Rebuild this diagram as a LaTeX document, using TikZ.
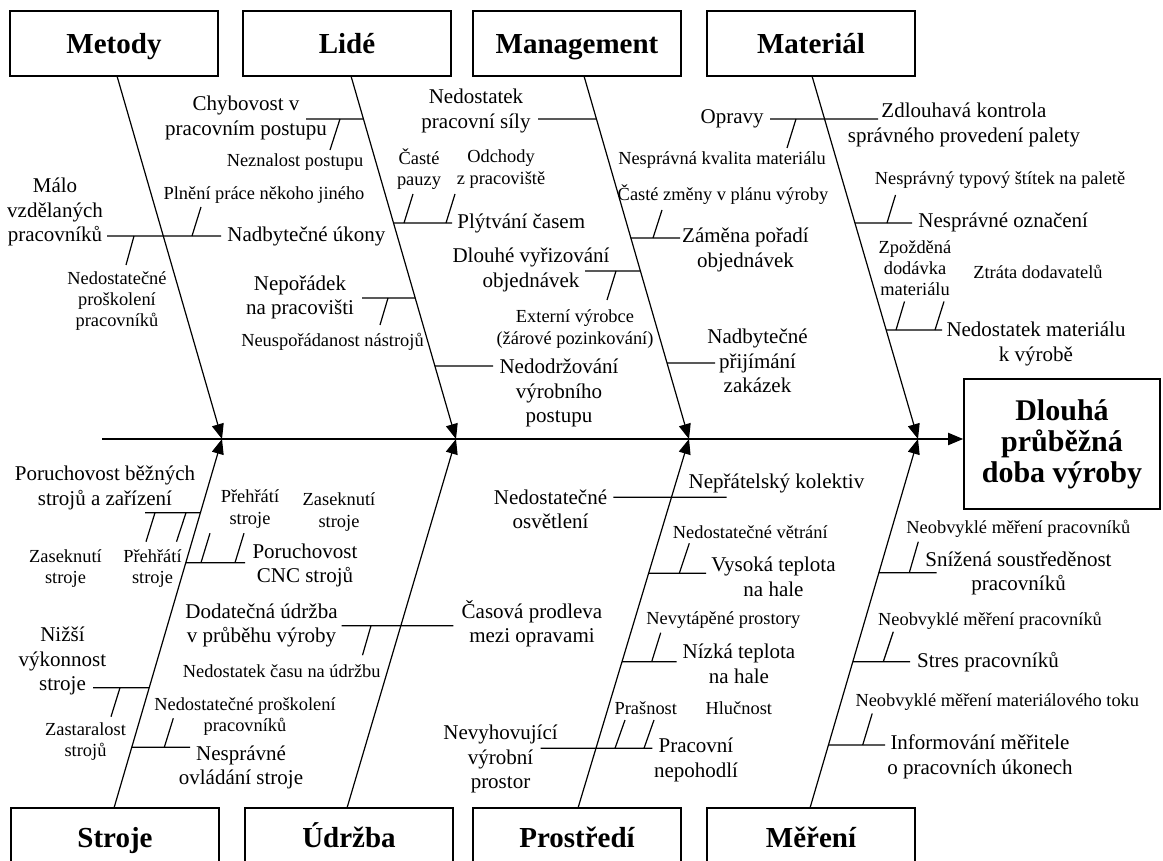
\documentclass[tikz,border=0pt]{standalone}
\usepackage{fontspec}
\setmainfont{Liberation Serif}
\usetikzlibrary{arrows.meta,calc}

\begin{document}
\begin{tikzpicture}[x=0.5pt, y=-0.5pt,
    kategorie/.style={draw, line width=0.8pt, minimum width=104pt, minimum height=32.5pt, inner sep=0pt, text height=9.8pt, text depth=0pt, font=\fontsize{14.5}{17}\selectfont\bfseries},
    popis/.style={align=center, inner sep=0pt, font=\fontsize{10.5}{12.25}\selectfont},
    pod/.style={align=center, inner sep=0pt, font=\fontsize{9.2}{10.65}\selectfont},
    kost/.style={line width=0.6pt, -{Triangle[length=7.5pt, width=6pt]}},
    vetev/.style={line width=0.6pt}]

        \useasboundingbox (0,0) rectangle (1163,861);

        % Kategorie nahore a dole
        \node[kategorie] (metody) at (114,43.5) {Metody};
        \node[kategorie] (lide) at (347,43.5) {Lidé};
        \node[kategorie] (management) at (577,43.5) {Management};
        \node[kategorie] (material) at (811,43.5) {Materiál};
        \node[kategorie, minimum height=29.5pt] (stroje) at (115,837.5) {Stroje};
        \node[kategorie, minimum height=29.5pt] (udrzba) at (349,837.5) {Údržba};
        \node[kategorie, minimum height=29.5pt] (prostredi) at (577,837.5) {Prostředí};
        \node[kategorie, minimum height=29.5pt] (mereni) at (811,837.5) {Měření};

        % Hlava ryby
        \node[draw, line width=0.8pt, minimum width=98pt, minimum height=65pt, align=center, inner sep=0pt,
              font=\fontsize{15}{15.5}\selectfont\bfseries] (hlava) at (1062,444) {Dlouhá\\průběžná\\doba výroby};

        % Pater
        \coordinate (start) at (102,439);
        \draw[line width=0.9pt, -{Triangle[length=7.5pt, width=6pt]}] (start) -- (hlava.west |- start);

        % Kosti
        \coordinate (j1) at (222,439);
        \coordinate (j2) at (456,439);
        \coordinate (j3) at (689,439);
        \coordinate (j4) at (918,439);
        \coordinate (metA) at (117,76);
        \coordinate (lidA) at (351,76);
        \coordinate (manA) at (584,76);
        \coordinate (matA) at (812,76);
        \coordinate (strA) at (114,808);
        \coordinate (udrA) at (347,808);
        \coordinate (proA) at (578,808);
        \coordinate (merA) at (810,808);
        \draw[kost] (metA) -- (j1);
        \draw[kost] (lidA) -- (j2);
        \draw[kost] (manA) -- (j3);
        \draw[kost] (matA) -- (j4);
        \draw[kost] (strA) -- (j1);
        \draw[kost] (udrA) -- (j2);
        \draw[kost] (proA) -- (j3);
        \draw[kost] (merA) -- (j4);

        % Metody
        \coordinate (m1) at ($(metA)!{(236-76)/363}!(j1)$);
        \coordinate (m1l) at (107,236);
        \coordinate (m1r) at (221,236);
        \draw[vetev] (m1l) -- (m1) -- (m1r);
        \draw[vetev] (134,236) -- ++(-8,29);
        \draw[vetev] (192,236) -- ++(9,-29);
        \node[popis] (malo) at (55,212) {Málo\\vzdělaných\\pracovníků};
        \node[popis, anchor=west] (ukony) at (227,236) {Nadbytečné úkony};
        \node[pod] (proskoleni) at (117,301) {Nedostatečné\\proškolení\\pracovníků};
        \node[pod] (plneni) at (264,195) {Plnění práce někoho jiného};

        % Lide
        \coordinate (l1) at ($(lidA)!{(119-76)/363}!(j2)$);
        \coordinate (l1l) at (306,119);
        \draw[vetev] (l1l) -- (l1);
        \draw[vetev] (340,119) -- ++(-10,31);
        \node[popis] (chybovost) at (246,118) {Chybovost v\\pracovním postupu};
        \node[pod] (neznalost) at (295,162) {Neznalost postupu};

        \coordinate (l2) at ($(lidA)!{(298-76)/363}!(j2)$);
        \coordinate (l2l) at (362,298);
        \draw[vetev] (l2l) -- (l2);
        \draw[vetev] (388,298) -- ++(-8,27);
        \node[popis] (neporadek) at (300,297.5) {Nepořádek\\na pracovišti};
        \node[pod] (nastroje) at (332.5,341.5) {Neuspořádanost nástrojů};

        \coordinate (l3) at ($(lidA)!{(223-76)/363}!(j2)$);
        \coordinate (l3r) at (452,223);
        \draw[vetev] (l3) -- (l3r);
        \draw[vetev] (404,223) -- ++(9,-29);
        \draw[vetev] (446,223) -- ++(9,-29);
        \node[popis, anchor=west] (plytvani) at (457,223) {Plýtvání časem};
        \node[pod] (pauzy) at (419,169) {Časté\\pauzy};
        \node[pod] (odchody) at (501,169) {Odchody\\z pracoviště};

        \coordinate (l4) at ($(lidA)!{(366-76)/363}!(j2)$);
        \coordinate (l4r) at (493,366);
        \draw[vetev] (l4) -- (l4r);
        \node[popis] (nedodrzovani) at (559,393) {Nedodržování\\výrobního\\postupu};

        % Management
        \coordinate (g1) at ($(manA)!{(119-76)/363}!(j3)$);
        \coordinate (g1l) at (538,119);
        \draw[vetev] (g1l) -- (g1);
        \node[popis] (sila) at (476,111) {Nedostatek\\pracovní síly};

        \coordinate (g2) at ($(manA)!{(271-76)/363}!(j3)$);
        \coordinate (g2l) at (585,271);
        \draw[vetev] (g2l) -- (g2);
        \draw[vetev] (616,271) -- ++(-9,29);
        \node[popis] (vyrizovani) at (531,270) {Dlouhé vyřizování\\objednávek};
        \node[pod] (externi) at (575,329) {Externí výrobce\\(žárové pozinkování)};

        \coordinate (g3) at ($(manA)!{(238-76)/363}!(j3)$);
        \coordinate (g3r) at (680,238);
        \draw[vetev] (g3) -- (g3r);
        \draw[vetev] (653,238) -- ++(9,-28);
        \node[popis] (zamena) at (745.5,250) {Záměna pořadí\\objednávek};
        \node[pod] (zmeny) at (723,195) {Časté změny v plánu výroby};

        \coordinate (g4) at ($(manA)!{(363-76)/363}!(j3)$);
        \coordinate (g4r) at (715,363);
        \draw[vetev] (g4) -- (g4r);
        \node[popis] (prijimani) at (757.5,361) {Nadbytečné\\přijímání\\zakázek};

        % Material
        \coordinate (a1) at ($(matA)!{(119-76)/363}!(j4)$);
        \coordinate (a1l) at (770,119);
        \coordinate (a1r) at (878,119);
        \draw[vetev] (a1l) -- (a1) -- (a1r);
        \draw[vetev] (796,119) -- ++(-9,29);
        \node[popis, anchor=east] (opravy) at (764,119) {Opravy};
        \node[popis] (kontrola) at (964,125) {Zdlouhavá kontrola\\správného provedení palety};
        \node[pod] (kvalita) at (722,160) {Nesprávná kvalita materiálu};

        \coordinate (a2) at ($(matA)!{(223-76)/363}!(j4)$);
        \coordinate (a2r) at (912,223);
        \draw[vetev] (a2) -- (a2r);
        \draw[vetev] (887,223) -- ++(8.5,-28);
        \node[popis, anchor=west] (oznaceni) at (918,222) {Nesprávné označení};
        \node[pod] (stitek) at (1000,180) {Nesprávný typový štítek na paletě};

        \coordinate (a3) at ($(matA)!{(330-76)/363}!(j4)$);
        \coordinate (a3r) at (942,330);
        \draw[vetev] (a3) -- (a3r);
        \draw[vetev] (896,330) -- ++(8.5,-28.5);
        \draw[vetev] (935,330) -- ++(9,-28.5);
        \node[popis] (nedostatek) at (1036,344) {Nedostatek materiálu\\k výrobě};
        \node[pod] (zpozdena) at (915,268) {Zpožděná\\dodávka\\materiálu};
        \node[pod] (ztrata) at (1038,271.7) {Ztráta dodavatelů};

        % Stroje
        \coordinate (s1) at ($(strA)!{(808-512.7)/369}!(j1)$);
        \coordinate (s1l) at (145,512.7);
        \draw[vetev] (s1l) -- (s1);
        \draw[vetev] (155,512.7) -- ++(-9,29);
        \draw[vetev] (186,512.7) -- ++(-9.5,29);
        \node[popis] (bezne) at (105,488) {Poruchovost běžných\\strojů a zařízení};
        \node[pod] (zaseknutiL) at (65.5,568.5) {Zaseknutí\\stroje};
        \node[pod] (prehratiL) at (152.5,568.5) {Přehřátí\\stroje};

        \coordinate (s2) at ($(strA)!{(808-562.7)/369}!(j1)$);
        \coordinate (s2r) at (245,562.7);
        \draw[vetev] (s2) -- (s2r);
        \draw[vetev] (201,562.7) -- ++(9,-29.5);
        \draw[vetev] (235,562.7) -- ++(9,-29.5);
        \node[popis] (cnc) at (305,565.5) {Poruchovost\\CNC strojů};
        \node[pod] (prehratiR) at (250,509) {Přehřátí\\stroje};
        \node[pod] (zaseknutiR) at (339,512) {Zaseknutí\\stroje};

        \coordinate (s3) at ($(strA)!{(808-687.7)/369}!(j1)$);
        \coordinate (s3l) at (93,687.7);
        \draw[vetev] (s3l) -- (s3);
        \draw[vetev] (120,687.7) -- ++(-9,29);
        \node[popis] (nizsi) at (62.5,661) {Nižší\\výkonnost\\stroje};
        \node[pod] (zastaralost) at (85.5,741.5) {Zastaralost\\strojů};

        \coordinate (s4) at ($(strA)!{(808-747.3)/369}!(j1)$);
        \coordinate (s4r) at (190,747.3);
        \draw[vetev] (s4) -- (s4r);
        \draw[vetev] (164.3,747.3) -- ++(9,-29);
        \node[popis] (ovladani) at (241,767.5) {Nesprávné\\ovládání stroje};
        \node[pod] (skoleni) at (245,716.5) {Nedostatečné proškolení\\pracovníků};

        % Udrzba
        \coordinate (u1) at ($(udrA)!{(808-625.7)/369}!(j2)$);
        \coordinate (u1l) at (341.7,625.7);
        \coordinate (u1r) at (453.3,625.7);
        \draw[vetev] (u1l) -- (u1) -- (u1r);
        \draw[vetev] (371,625.7) -- ++(-8.5,29.5);
        \node[popis] (dodatecna) at (261.5,625.5) {Dodatečná údržba\\v průběhu výroby};
        \node[popis] (prodleva) at (532,623.5) {Časová prodleva\\mezi opravami};
        \node[pod] (cas) at (281.7,671) {Nedostatek času na údržbu};

        % Prostredi
        \coordinate (p1) at ($(proA)!{(808-497.3)/369}!(j3)$);
        \coordinate (p1l) at (613.3,497.3);
        \coordinate (p1r) at (726.7,497.3);
        \draw[vetev] (p1l) -- (p1) -- (p1r);
        \node[popis] (osvetleni) at (550.5,509.5) {Nedostatečné\\osvětlení};
        \node[popis] (kolektiv) at (776.5,483) {Nepřátelský kolektiv};

        \coordinate (p2) at ($(proA)!{(808-573.3)/369}!(j3)$);
        \coordinate (p2r) at (706,573.3);
        \draw[vetev] (p2) -- (p2r);
        \draw[vetev] (679.3,573.3) -- ++(10,-30);
        \node[popis] (vysoka) at (773.5,577) {Vysoká teplota\\na hale};
        \node[pod] (vetrani) at (750.3,531.7) {Nedostatečné větrání};

        \coordinate (p3) at ($(proA)!{(808-661.7)/369}!(j3)$);
        \coordinate (p3r) at (676.7,661.7);
        \draw[vetev] (p3) -- (p3r);
        \draw[vetev] (651.7,661.7) -- ++(9,-29);
        \node[popis] (nizka) at (739,664) {Nízká teplota\\na hale};
        \node[pod] (nevytapene) at (723.3,620) {Nevytápěné prostory};

        \coordinate (p4) at ($(proA)!{(808-748.3)/369}!(j3)$);
        \coordinate (p4l) at (540.7,748.3);
        \coordinate (p4r) at (652.3,748.3);
        \draw[vetev] (p4l) -- (p4) -- (p4r);
        \draw[vetev] (615,748.3) -- ++(10,-28.3);
        \draw[vetev] (644,748.3) -- ++(10,-28.3);
        \node[popis] (nevyhovujici) at (500.5,759) {Nevyhovující\\výrobní\\prostor};
        \node[popis] (nepohodli) at (696,760) {Pracovní\\nepohodlí};
        \node[pod] (prasnost) at (645.8,708.3) {Prašnost};
        \node[pod] (hlucnost) at (738.8,708.3) {Hlučnost};

        % Mereni
        \coordinate (r1) at ($(merA)!{(808-572.7)/369}!(j4)$);
        \coordinate (r1r) at (936.7,572.7);
        \draw[vetev] (r1) -- (r1r);
        \draw[vetev] (909.3,572.7) -- ++(9,-31);
        \node[popis] (soustredenost) at (1018.5,573.5) {Snížená soustředěnost\\pracovníků};
        \node[pod] (neobvykle1) at (1018.3,529.3) {Neobvyklé měření pracovníků};

        \coordinate (r2) at ($(merA)!{(808-661.7)/369}!(j4)$);
        \coordinate (r2r) at (910,661.7);
        \draw[vetev] (r2) -- (r2r);
        \draw[vetev] (883.3,661.7) -- ++(10,-30);
        \node[popis, anchor=west] (stres) at (916.7,662) {Stres pracovníků};
        \node[pod] (neobvykle2) at (990,621) {Neobvyklé měření pracovníků};

        \coordinate (r3) at ($(merA)!{(808-745)/369}!(j4)$);
        \coordinate (r3r) at (885,745);
        \draw[vetev] (r3) -- (r3r);
        \draw[vetev] (862.7,745) -- ++(9.5,-31.5);
        \node[popis] (informovani) at (980,757) {Informování měřitele\\o pracovních úkonech};
        \node[pod] (neobvykle3) at (997.3,702.3) {Neobvyklé měření materiálového toku};

    \end{tikzpicture}
\end{document}
